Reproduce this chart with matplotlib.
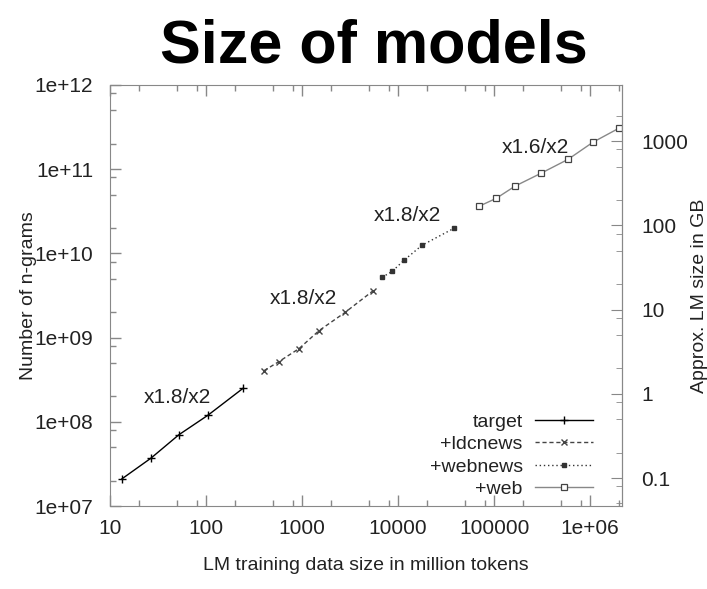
import matplotlib
matplotlib.use('Agg')
import matplotlib.pyplot as plt
from matplotlib.ticker import LogLocator, FixedLocator, FixedFormatter, NullFormatter

plt.rcParams['font.family'] = ['Liberation Sans', 'DejaVu Sans']

# values (million tokens, number of n-grams)
target_x = [13.3, 26.7, 52, 105, 243]
target_y = [2.1e7, 3.7e7, 7.0e7, 1.2e8, 2.5e8]

ldcnews_x = [402, 576, 930, 1503, 2805, 5495]
ldcnews_y = [4.05e8, 5.2e8, 7.4e8, 1.21e9, 1.99e9, 3.6e9]

webnews_x = [6810, 8660, 11550, 17780, 38300]
webnews_y = [5.2e9, 6.1e9, 8.3e9, 1.25e10, 1.99e10]

web_x = [69800, 105000, 165600, 309000, 590000, 1.07e6, 2.0e6]
web_y = [3.63e10, 4.5e10, 6.3e10, 8.96e10, 1.31e11, 2.09e11, 3.07e11]

growth_labels = ['x1.8/x2', 'x1.8/x2', 'x1.8/x2', 'x1.6/x2']
growth_x = [50, 1025, 12400, 267000]
growth_y = [1.93e8, 2.91e9, 2.83e10, 1.83e11]

ngrams_per_gb = 2.15e8
gb_ticks = [0.1, 1, 10, 100, 1000]
gb_labels = ['0.1', '1', '10', '100', '1000']

fig = plt.figure(figsize=(7.07, 5.89), dpi=100)
ax = fig.add_axes([0.1556, 0.1409, 0.7242, 0.7148])

ax.plot(target_x, target_y, color='black', lw=1.0, marker='+', ms=6, mew=1.0, label='target')
ax.plot(ldcnews_x, ldcnews_y, color='#444444', lw=1.0, ls=(0, (3, 2)), marker='x', ms=5, mew=1.0, label='+ldcnews')
ax.plot(webnews_x, webnews_y, color='#333333', lw=1.0, ls=(0, (1, 2)), marker='s', ms=3.5, mew=1.0, label='+webnews')
ax.plot(web_x, web_y, color='#888888', lw=1.0, marker='s', ms=5, mfc='white', mec='#444444', mew=0.9, label='+web')

for txt, gx, gy in zip(growth_labels, growth_x, growth_y):
    ax.text(gx, gy, txt, fontsize=15, ha='center', va='center', color='#222222')

ax.set_xscale('log')
ax.set_yscale('log')
ax.set_xlim(10, 2.15e6)
ax.set_ylim(1e7, 1e12)

ax.xaxis.set_minor_locator(LogLocator(base=10, subs=(2, 5, 8), numticks=20))
ax.yaxis.set_minor_locator(LogLocator(base=10, subs=(2, 5, 8), numticks=20))
ax.xaxis.set_minor_formatter(NullFormatter())
ax.yaxis.set_minor_formatter(NullFormatter())

xt = [10, 100, 1000, 10000, 100000, 1e6]
ax.xaxis.set_major_locator(FixedLocator(xt))
ax.xaxis.set_major_formatter(FixedFormatter(['10', '100', '1000', '10000', '100000', '1e+06']))
yt = [1e7, 1e8, 1e9, 1e10, 1e11, 1e12]
ax.yaxis.set_major_locator(FixedLocator(yt))
ax.yaxis.set_major_formatter(FixedFormatter(['1e+07', '1e+08', '1e+09', '1e+10', '1e+11', '1e+12']))

ax.tick_params(which='both', direction='in', top=True, right=False, colors='#888888',
               labelcolor='#222222', labelsize=15)
ax.tick_params(which='major', length=8, width=1.0)
ax.tick_params(which='minor', length=4, width=1.0)
ax.tick_params(axis='x', pad=9)
ax.tick_params(axis='y', pad=12)
for s in ax.spines.values():
    s.set_color('#888888')

sec = ax.secondary_yaxis('right', functions=(lambda y: y / ngrams_per_gb, lambda g: g * ngrams_per_gb))
sec.yaxis.set_major_locator(FixedLocator(gb_ticks))
sec.yaxis.set_major_formatter(FixedFormatter(gb_labels))
sec.yaxis.set_minor_locator(LogLocator(base=10, subs=(2, 5, 8), numticks=20))
sec.yaxis.set_minor_formatter(NullFormatter())
sec.tick_params(which='both', direction='in', colors='#888888', labelcolor='#222222', labelsize=15, pad=14)
sec.tick_params(which='major', length=8)
sec.tick_params(which='minor', length=4)
sec.spines['right'].set_color('#888888')
sec.set_ylabel('Approx. LM size in GB', fontsize=14, color='#222222', labelpad=2)

ax.set_xlabel('LM training data size in million tokens', fontsize=14, color='#222222', labelpad=14)
ax.set_ylabel('Number of n-grams', fontsize=14, color='#222222', labelpad=-2)

leg = ax.legend(loc='lower right', bbox_to_anchor=(0.943, 0.019), markerfirst=False, frameon=False,
                fontsize=14, handlelength=3.0, handletextpad=0.6, labelspacing=0.25,
                borderpad=0, borderaxespad=0)
for t in leg.get_texts():
    t.set_color('#222222')

fig.text(0.529, 0.92, 'Size of models', fontsize=44, fontweight='bold', ha='center', va='center')

fig.savefig('out.png', dpi=100)
